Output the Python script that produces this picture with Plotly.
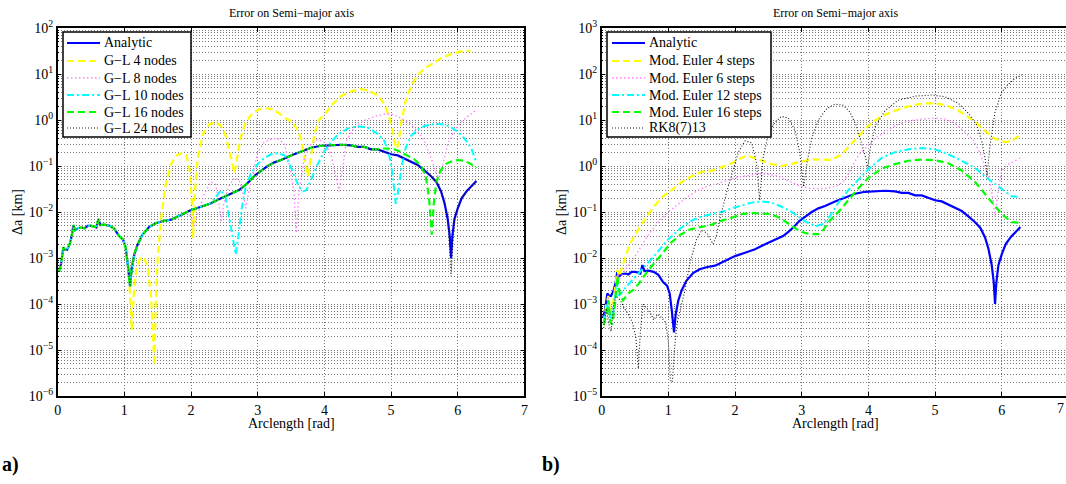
import plotly.graph_objects as go

FONT = "Liberation Serif"
W, H = 1066, 484

# ---------------- data ----------------
an_x = [0.02, 0.05, 0.085, 0.11, 0.14, 0.18, 0.21, 0.235, 0.26, 0.31, 0.36, 0.40, 0.45, 0.50, 0.55, 0.58, 0.61,
        0.64, 0.70, 0.78, 0.85, 0.92, 0.98, 1.02, 1.05, 1.085, 1.11, 1.15, 1.20, 1.27, 1.37, 1.47, 1.57, 1.70,
        1.80, 1.90, 2.00, 2.15, 2.30, 2.45, 2.60, 2.72, 2.80, 2.88, 2.96, 3.05, 3.15, 3.25, 3.35, 3.50, 3.65,
        3.80, 3.95, 4.10, 4.25, 4.40, 4.50, 4.60, 4.70, 4.80, 4.90, 5.00, 5.10, 5.20, 5.30, 5.40, 5.50, 5.60,
        5.68, 5.75, 5.80, 5.85, 5.88, 5.90, 5.92, 5.95, 6.00, 6.06, 6.14, 6.22, 6.28]
an_y = [5.0e-4, 7.5e-4, 1.7e-3, 1.5e-3, 1.5e-3, 2.0e-3, 3.0e-3, 5.2e-3, 4.0e-3, 4.5e-3, 4.6e-3, 4.4e-3, 5.0e-3,
        5.0e-3, 4.8e-3, 4.6e-3, 7.0e-3, 5.2e-3, 5.3e-3, 5.0e-3, 4.3e-3, 3.0e-3, 2.5e-3, 1.7e-3, 7.5e-4, 2.4e-4,
        6.0e-4, 1.2e-3, 2.0e-3, 3.2e-3, 4.7e-3, 5.7e-3, 6.3e-3, 6.8e-3, 8.0e-3, 9.5e-3, 1.1e-2, 1.3e-2, 1.55e-2,
        2.0e-2, 2.5e-2, 3.0e-2, 3.7e-2, 4.7e-2, 6.3e-2, 8.0e-2, 1.0e-1, 1.2e-1, 1.35e-1, 1.7e-1, 2.1e-1, 2.5e-1,
        2.75e-1, 2.85e-1, 2.9e-1, 2.8e-1, 2.6e-1, 2.6e-1, 2.3e-1, 2.3e-1, 2.0e-1, 1.8e-1, 1.7e-1, 1.45e-1,
        1.25e-1, 1.05e-1, 8.0e-2, 6.0e-2, 4.5e-2, 2.8e-2, 1.6e-2, 7.0e-3, 3.0e-3, 1.0e-3, 3.0e-3, 7.0e-3,
        1.2e-2, 2.0e-2, 2.9e-2, 3.8e-2, 4.7e-2]

# --- panel a: Gauss-Legendre (parts where they leave the analytic curve) ---
gl4_tail_x = [1.08, 1.11, 1.14, 1.18, 1.24, 1.30, 1.35, 1.40, 1.43, 1.45, 1.47, 1.50, 1.55, 1.62, 1.70, 1.78,
              1.86, 1.93, 1.98, 2.01, 2.03, 2.06, 2.10, 2.18, 2.27, 2.36, 2.45, 2.52, 2.58, 2.62, 2.65, 2.68,
              2.74, 2.82, 2.92, 3.02, 3.12, 3.22, 3.32, 3.42, 3.52, 3.60, 3.66, 3.71, 3.75, 3.79, 3.85, 3.92,
              4.00, 4.12, 4.25, 4.40, 4.55, 4.68, 4.80, 4.90, 4.97, 5.02, 5.06, 5.09, 5.12, 5.16, 5.22, 5.30,
              5.40, 5.50, 5.62, 5.75, 5.90, 6.05, 6.19]
gl4_tail_y = [2.0e-4, 2.7e-5, 1.5e-4, 6.0e-4, 1.0e-3, 1.0e-3, 6.0e-4, 1.5e-4, 2.0e-5, 4.7e-6, 1.0e-4, 1.0e-3,
              7.0e-3, 4.0e-2, 1.1e-1, 1.7e-1, 1.9e-1, 1.7e-1, 8.0e-2, 2.0e-2, 2.7e-3, 3.0e-2, 1.5e-1, 5.0e-1,
              8.0e-1, 9.0e-1, 7.5e-1, 4.5e-1, 2.0e-1, 1.0e-1, 7.0e-2, 1.2e-1, 4.0e-1, 9.0e-1, 1.4, 1.7, 1.8, 1.7,
              1.4, 1.1, 0.9, 0.6, 0.35, 0.13, 0.06, 0.13, 0.5, 1.0, 1.3, 2.2, 3.3, 4.2, 4.7, 4.3, 3.4, 2.2, 1.2,
              0.6, 0.3, 0.24, 0.4, 1.0, 2.6, 5.5, 9.5, 13.0, 17.0, 22.0, 27.0, 31.0, 32.0]

gl8_tail_x = [1.95, 2.0, 2.05, 2.1, 2.2, 2.3, 2.37, 2.42, 2.45, 2.49, 2.56, 2.65, 2.72, 2.78, 2.82, 2.86, 2.93,
              3.0, 3.1, 3.2, 3.3, 3.4, 3.48, 3.54, 3.58, 3.62, 3.7, 3.8, 3.9, 4.0, 4.1, 4.17, 4.22, 4.27, 4.33,
              4.45, 4.6, 4.75, 4.9, 5.0, 5.1, 5.2, 5.3, 5.4, 5.5, 5.6, 5.66, 5.72, 5.78, 5.85, 5.95, 6.05, 6.15,
              6.22, 6.28]
gl8_tail_y = [0.0095, 0.008, 0.005, 0.009, 0.025, 0.045, 0.04, 0.015, 0.006, 0.015, 0.035, 0.055, 0.05, 0.025,
              0.012, 0.025, 0.07, 0.2, 0.33, 0.38, 0.4, 0.3, 0.1, 0.03, 0.0035, 0.03, 0.15, 0.3, 0.38, 0.33, 0.18,
              0.06, 0.028, 0.08, 0.35, 0.7, 0.98, 1.2, 1.35, 1.35, 1.2, 1.0, 0.8, 0.55, 0.35, 0.15, 0.08, 0.05,
              0.12, 0.3, 0.6, 0.9, 1.2, 1.45, 1.65]

gl10_tail_x = [2.3, 2.38, 2.45, 2.52, 2.58, 2.63, 2.67, 2.71, 2.76, 2.82, 2.9, 3.0, 3.1, 3.2, 3.3, 3.4, 3.48,
               3.55, 3.62, 3.68, 3.73, 3.8, 3.9, 4.0, 4.1, 4.2, 4.35, 4.5, 4.65, 4.8, 4.9, 4.97, 5.02, 5.07,
               5.11, 5.16, 5.22, 5.3, 5.4, 5.5, 5.6, 5.7, 5.8, 5.9, 6.0, 6.1, 6.2, 6.28]
gl10_tail_y = [0.0155, 0.022, 0.03, 0.02, 0.007, 0.0025, 0.0012, 0.003, 0.012, 0.035, 0.07, 0.11, 0.15, 0.18,
               0.19, 0.17, 0.11, 0.06, 0.035, 0.028, 0.03, 0.05, 0.11, 0.21, 0.33, 0.48, 0.65, 0.73, 0.68, 0.5,
               0.35, 0.18, 0.07, 0.015, 0.03, 0.1, 0.25, 0.45, 0.62, 0.74, 0.8, 0.82, 0.8, 0.7, 0.55, 0.4, 0.25,
               0.12]

gl16_tail_x = [4.85, 4.95, 5.05, 5.15, 5.25, 5.35, 5.45, 5.52, 5.57, 5.61, 5.64, 5.68, 5.74, 5.82, 5.9, 6.0,
               6.1, 6.2, 6.28]
gl16_tail_y = [0.24, 0.24, 0.23, 0.2, 0.17, 0.14, 0.1, 0.06, 0.02, 0.0032, 0.015, 0.045, 0.08, 0.11, 0.125,
               0.135, 0.13, 0.11, 0.09]

gl24_tail_x = [5.87, 5.90, 5.93, 5.96, 6.00, 6.06, 6.14, 6.22, 6.28]
gl24_tail_y = [2.5e-3, 4.0e-4, 2.5e-3, 8.0e-3, 1.2e-2, 2.0e-2, 2.9e-2, 3.8e-2, 4.7e-2]

# --- panel b: Modified Euler / RK8 ---
me4_x = [0.03, 0.07, 0.10, 0.13, 0.17, 0.21, 0.235, 0.26, 0.30, 0.35, 0.42, 0.50, 0.60, 0.70, 0.80, 0.92, 1.05,
         1.2, 1.35, 1.5, 1.65, 1.8, 1.95, 2.08, 2.18, 2.28, 2.4, 2.55, 2.7, 2.85, 3.0, 3.15, 3.3, 3.45, 3.6,
         3.72, 3.85, 4.0, 4.15, 4.3, 4.5, 4.7, 4.85, 5.0, 5.15, 5.3, 5.45, 5.6, 5.75, 5.9, 6.05, 6.15, 6.28]
me4_y = [4e-4, 1e-3, 1.5e-3, 6e-4, 1e-3, 3e-3, 5.5e-3, 4e-3, 6e-3, 1e-2, 2e-2, 3.2e-2, 5.5e-2, 9e-2, 0.14, 0.22,
         0.3, 0.45, 0.6, 0.75, 0.78, 0.95, 1.15, 1.45, 1.7, 1.5, 1.3, 1.1, 1.0, 1.1, 1.25, 1.4, 1.35, 1.35, 1.8,
         2.8, 4.3, 7.5, 11.0, 14.0, 18.0, 21.5, 23.0, 23.0, 21.0, 17.5, 13.0, 9.0, 5.8, 3.9, 3.3, 3.5, 4.8]

me6_x = [0.03, 0.07, 0.10, 0.13, 0.17, 0.21, 0.24, 0.27, 0.32, 0.42, 0.52, 0.62, 0.72, 0.85, 1.0, 1.15, 1.3,
         1.45, 1.6, 1.75, 1.9, 2.05, 2.2, 2.35, 2.5, 2.65, 2.8, 2.95, 3.1, 3.25, 3.4, 3.55, 3.65, 3.75, 3.85,
         3.95, 4.1, 4.25, 4.4, 4.6, 4.8, 5.0, 5.15, 5.3, 5.45, 5.57, 5.67, 5.75, 5.82, 5.87, 5.9, 5.94, 6.0,
         6.1, 6.2, 6.28]
me6_y = [4e-4, 9e-4, 1.4e-3, 5e-4, 9e-4, 2.5e-3, 4.5e-3, 3.5e-3, 4.7e-3, 7.5e-3, 1.2e-2, 2.1e-2, 3.5e-2, 6e-2,
         0.1, 0.15, 0.22, 0.3, 0.37, 0.42, 0.5, 0.58, 0.62, 0.68, 0.66, 0.6, 0.48, 0.38, 0.33, 0.32, 0.33, 0.38,
         0.5, 0.95, 1.7, 2.4, 4.0, 5.5, 7.5, 9.5, 10.5, 11.0, 10.5, 8.5, 5.5, 3.7, 2.0, 1.0, 0.5, 0.18, 0.08,
         0.25, 0.8, 1.1, 1.3, 1.5]

me12_x = [0.03, 0.07, 0.10, 0.13, 0.17, 0.21, 0.23, 0.26, 0.30, 0.35, 0.45, 0.6, 0.78, 0.98, 1.18, 1.35, 1.5,
          1.65, 1.8, 1.95, 2.1, 2.25, 2.4, 2.55, 2.7, 2.85, 3.0, 3.12, 3.22, 3.32, 3.42, 3.55, 3.7, 3.85, 4.0,
          4.2, 4.4, 4.6, 4.8, 5.0, 5.2, 5.4, 5.6, 5.8, 6.0, 6.15, 6.28]
me12_y = [4e-4, 8e-4, 1.1e-3, 4.5e-4, 6e-4, 2e-3, 3e-3, 1.5e-3, 1.8e-3, 2.2e-3, 3.2e-3, 5.5e-3, 1.07e-2,
          2.4e-2, 4.4e-2, 6.5e-2, 8e-2, 9e-2, 0.1, 0.12, 0.14, 0.16, 0.17, 0.16, 0.13, 0.1, 0.07, 0.055, 0.05,
          0.055, 0.08, 0.16, 0.3, 0.5, 0.85, 1.5, 2.0, 2.3, 2.45, 2.3, 1.8, 1.3, 0.9, 0.52, 0.32, 0.22, 0.21]

me16_x = [0.03, 0.07, 0.10, 0.13, 0.16, 0.20, 0.235, 0.27, 0.32, 0.40, 0.47, 0.55, 0.62, 0.70, 0.78, 0.9, 1.03,
          1.18, 1.33, 1.48, 1.65, 1.8, 1.95, 2.1, 2.25, 2.4, 2.55, 2.7, 2.85, 2.95, 3.05, 3.15, 3.25, 3.32, 3.42,
          3.55, 3.7, 3.85, 4.0, 4.2, 4.4, 4.6, 4.8, 5.0, 5.2, 5.4, 5.6, 5.8, 6.0, 6.15, 6.28]
me16_y = [3.5e-4, 6e-4, 1.2e-3, 4e-4, 3.6e-4, 1e-3, 4e-3, 1.7e-3, 1.2e-3, 1.7e-3, 2e-3, 2.7e-3, 3.8e-3, 5.5e-3,
          7.5e-3, 1.2e-2, 2.1e-2, 3.2e-2, 4.2e-2, 4.7e-2, 5.3e-2, 6.5e-2, 7.5e-2, 9e-2, 9.5e-2, 9.2e-2, 9e-2,
          7e-2, 5e-2, 4e-2, 3.5e-2, 3.3e-2, 3.3e-2, 4e-2, 6.5e-2, 0.1, 0.18, 0.33, 0.55, 0.88, 1.1, 1.3, 1.38,
          1.33, 1.15, 0.8, 0.45, 0.2, 0.09, 0.06, 0.058]

rk8_x = [0.03, 0.07, 0.1, 0.14, 0.18, 0.22, 0.28, 0.34, 0.40, 0.46, 0.51, 0.55, 0.58, 0.62, 0.68, 0.74, 0.78,
         0.84, 0.9, 0.96, 1.0, 1.03, 1.06, 1.09, 1.13, 1.18, 1.25, 1.32, 1.42, 1.5, 1.58, 1.67, 1.72, 1.77, 1.87,
         1.97, 2.05, 2.15, 2.25, 2.32, 2.37, 2.42, 2.5, 2.6, 2.7, 2.8, 2.9, 2.97, 3.03, 3.08, 3.15, 3.25, 3.38,
         3.5, 3.62, 3.72, 3.82, 3.9, 3.96, 3.99, 4.03, 4.1, 4.25, 4.45, 4.7, 4.95, 5.15, 5.35, 5.5, 5.62, 5.7,
         5.75, 5.78, 5.82, 5.9, 6.0, 6.1, 6.2, 6.3]
rk8_y = [3e-4, 8e-4, 4e-4, 2.5e-4, 1e-3, 1.5e-3, 1.2e-3, 8e-4, 6e-4, 4e-4, 2e-4, 4e-5, 2.5e-4, 1e-3, 8e-4, 6e-4,
         4.5e-4, 6e-4, 5e-4, 4e-4, 1.5e-4, 2.2e-5, 2e-5, 1e-4, 3.8e-4, 8e-4, 2e-3, 7.5e-3, 0.025, 0.04, 0.035,
         0.02, 0.03, 0.068, 0.26, 0.8, 2.0, 3.5, 3.2, 1.2, 0.18, 1.5, 5.0, 9.0, 12.0, 11.0, 6.0, 2.0, 0.35, 1.2,
         4.0, 10.0, 18.0, 22.0, 21.0, 15.0, 7.5, 3.0, 1.5, 0.9, 2.5, 7.0, 16.0, 27.0, 33.0, 35.0, 32.0, 23.0,
         14.0, 8.0, 3.5, 1.5, 0.6, 2.5, 15.0, 40.0, 60.0, 80.0, 95.0]

legend_a = ["Analytic", "G\u2212L 4 nodes", "G\u2212L 8 nodes", "G\u2212L 10 nodes", "G\u2212L 16 nodes",
            "G\u2212L 24 nodes"]
legend_b = ["Analytic", "Mod. Euler 4 steps", "Mod. Euler 6 steps", "Mod. Euler 12 steps",
            "Mod. Euler 16 steps", "RK8(7)13"]
x_ticks = [0, 1, 2, 3, 4, 5, 6, 7]
ya_exps = [-6, -5, -4, -3, -2, -1, 0, 1, 2]
yb_exps = [-5, -4, -3, -2, -1, 0, 1, 2, 3]


def join(base_x, base_y, tail_x, tail_y):
    bx = [x for x in base_x if x < tail_x[0]]
    return bx + tail_x, base_y[:len(bx)] + tail_y


gl4_x, gl4_y = join(an_x, an_y, gl4_tail_x, gl4_tail_y)
gl8_x, gl8_y = join(an_x, an_y, gl8_tail_x, gl8_tail_y)
gl10_x, gl10_y = join(an_x, an_y, gl10_tail_x, gl10_tail_y)
gl16_x, gl16_y = join(an_x, an_y, gl16_tail_x, gl16_tail_y)
gl24_x, gl24_y = join(an_x, an_y, gl24_tail_x, gl24_tail_y)

# ---------------- styles ----------------
STY = [
    dict(color="#0000ff", width=2.2, dash="solid"),
    dict(color="#ffff00", width=2.2, dash="7px,4px"),
    dict(color="#ff7fff", width=1.3, dash="1.5px,2.5px"),
    dict(color="#00ffff", width=2.0, dash="7px,3px,2px,3px"),
    dict(color="#00ff00", width=2.2, dash="7px,4px"),
    dict(color="#1a1a1a", width=1.1, dash="1px,2px"),
]

fig = go.Figure()
series_a = [(an_x, an_y), (gl4_x, gl4_y), (gl8_x, gl8_y), (gl10_x, gl10_y), (gl16_x, gl16_y), (gl24_x, gl24_y)]
series_b = [(an_x, an_y), (me4_x, me4_y), (me6_x, me6_y), (me12_x, me12_y), (me16_x, me16_y), (rk8_x, rk8_y)]
for (xs, ys), name, st in zip(series_a, legend_a, STY):
    fig.add_trace(go.Scatter(x=xs, y=ys, mode="lines", name=name, line=st, xaxis="x", yaxis="y",
                             showlegend=False))
for (xs, ys), name, st in zip(series_b, legend_b, STY):
    fig.add_trace(go.Scatter(x=xs, y=ys, mode="lines", name=name, line=st, xaxis="x2", yaxis="y2",
                             showlegend=False))

GRID = "#7a7a7a"
GDASH = "1px,2px"
TICKFONT = dict(family=FONT, size=14, color="black")


def xaxis(domain, rng, mirror, anchor):
    return dict(domain=domain, range=rng, anchor=anchor, tickmode="array", tickvals=x_ticks,
                ticktext=[str(v) for v in x_ticks],
                showgrid=True, gridcolor=GRID, griddash=GDASH, gridwidth=1, zeroline=False,
                showline=True, linecolor="black", linewidth=1.5, mirror=mirror, ticks="inside", ticklen=4,
                tickcolor="black", tickfont=TICKFONT, automargin=False)


def yaxis(domain, exps, anchor, mirror):
    lo, hi = exps[0], exps[-1]
    minors = [m * 10.0 ** k for k in range(lo, hi) for m in range(2, 10)]
    return dict(domain=domain, type="log", range=[lo, hi], anchor=anchor, tickmode="array",
                tickvals=[10.0 ** e for e in exps],
                ticktext=["10<sup>%s</sup>" % (("\u2212%d" % -e) if e < 0 else str(e)) for e in exps],
                showgrid=True, gridcolor=GRID, griddash=GDASH, gridwidth=1, zeroline=False,
                showline=True, linecolor="black", linewidth=1.5, mirror=mirror, ticks="inside", ticklen=4,
                tickcolor="black", tickfont=TICKFONT, automargin=False,
                minor=dict(tickmode="array", tickvals=minors, showgrid=True, gridcolor=GRID, griddash=GDASH,
                           gridwidth=1, ticks="inside", ticklen=2, tickcolor="black"))


yd = [1 - 396 / H, 1 - 28 / H]
fig.update_layout(
    width=W, height=H, margin=dict(l=0, r=0, t=0, b=0),
    paper_bgcolor="white", plot_bgcolor="white",
    font=dict(family=FONT, size=13, color="black"),
    xaxis=xaxis([57.7 / W, 524.4 / W], [0, 7], "ticks", "y"),
    yaxis=yaxis(yd, ya_exps, "x", "ticks"),
    xaxis2=xaxis([601.7 / W, 1.0], [0, (W - 601.7) / 66.67], "ticks", "y2"),
    yaxis2=yaxis(yd, yb_exps, "x2", False),
    showlegend=False,
)

shapes = []
ann = []


def px(x):
    return x / W


def py(y):
    return 1 - y / H


# legend boxes drawn in the reference style (boxed, inside the top-left corner)
def add_legend(x0, x1, y0, y1, rows, names, sx0, sx1, tx):
    shapes.append(dict(type="rect", xref="paper", yref="paper", x0=px(x0), x1=px(x1), y0=py(y1), y1=py(y0),
                       fillcolor="white", line=dict(color="black", width=1.5), layer="above"))
    for yy, name, st in zip(rows, names, STY):
        shapes.append(dict(type="line", xref="paper", yref="paper", x0=px(sx0), x1=px(sx1), y0=py(yy),
                           y1=py(yy), line=dict(color=st["color"], width=st["width"], dash=st["dash"]),
                           layer="above"))
        ann.append(dict(text=name, x=px(tx), y=py(yy), xref="paper", yref="paper", showarrow=False,
                        xanchor="left", yanchor="middle", font=dict(family=FONT, size=14, color="black")))


rows = [43, 61, 78, 95, 112, 128]
add_legend(63, 191, 32, 137, rows, legend_a, 67, 100, 102)
add_legend(607, 771, 32, 137, rows, legend_b, 612, 645, 647)

for cx in (291, 835):
    ann.append(dict(text="Error on Semi\u2212major axis", x=px(cx), y=py(13), xref="paper", yref="paper",
                    showarrow=False, font=dict(family=FONT, size=12, color="black"), xanchor="center",
                    yanchor="middle"))
    ann.append(dict(text="Arclength [rad]", x=px(cx), y=py(423), xref="paper", yref="paper",
                    showarrow=False, font=dict(family=FONT, size=14, color="black"), xanchor="center",
                    yanchor="middle"))
for lx in (17, 561):
    ann.append(dict(text="\u0394a [km]", x=px(lx), y=py(212), xref="paper", yref="paper", showarrow=False,
                    textangle=-90, font=dict(family=FONT, size=14, color="black"), xanchor="center",
                    yanchor="middle"))
# last tick label of panel b sits at the right edge of the page
ann.append(dict(text="7", x=1.0, y=py(408), xref="paper", yref="paper", showarrow=False,
                xanchor="right", yanchor="middle", font=TICKFONT))
for txt, lx in (("a)", 0), ("b)", 540)):
    ann.append(dict(text="<b>%s</b>" % txt, x=px(lx), y=py(464), xref="paper", yref="paper",
                    showarrow=False, font=dict(family=FONT, size=20, color="black"), xanchor="left",
                    yanchor="middle"))
fig.update_layout(annotations=ann, shapes=shapes)

fig.write_html("out.html")
